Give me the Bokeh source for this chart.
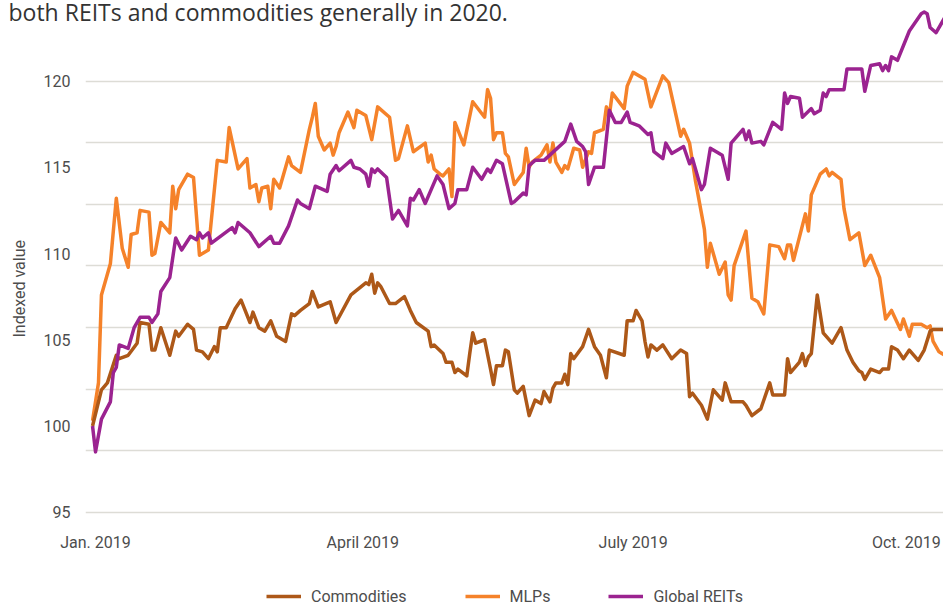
import numpy as np
import pandas as pd
from bokeh.plotting import figure
from bokeh.models import Range1d, FixedTicker, Legend, LegendItem, Title
from bokeh.embed import file_html
from bokeh.resources import INLINE

# ---------------- data ----------------
subtitle_tail = "both REITs and commodities generally in 2020."
y_axis_title = "Indexed value"
series_names = ["Commodities", "MLPs", "Global REITs"]
x_tick_dates = ["2019-01-01", "2019-04-01", "2019-07-01", "2019-10-01"]
x_tick_labels = ["Jan. 2019", "April 2019", "July 2019", "Oct. 2019"]
y_tick_values = [95, 100, 105, 110, 115, 120]

commodities_dates = [
    "2018-12-31", "2019-01-03", "2019-01-05", "2019-01-08", "2019-01-09", "2019-01-12",
    "2019-01-15", "2019-01-16", "2019-01-19", "2019-01-20", "2019-01-21", "2019-01-23",
    "2019-01-26", "2019-01-28", "2019-01-29", "2019-02-01", "2019-02-03", "2019-02-04",
    "2019-02-06", "2019-02-08", "2019-02-10", "2019-02-11", "2019-02-12", "2019-02-14",
    "2019-02-17", "2019-02-19", "2019-02-22", "2019-02-23", "2019-02-25", "2019-02-27",
    "2019-03-01", "2019-03-03", "2019-03-06", "2019-03-08", "2019-03-09", "2019-03-11",
    "2019-03-14", "2019-03-15", "2019-03-17", "2019-03-21", "2019-03-23", "2019-03-28",
    "2019-04-02", "2019-04-03", "2019-04-04", "2019-04-05", "2019-04-06", "2019-04-07",
    "2019-04-10", "2019-04-12", "2019-04-15", "2019-04-17", "2019-04-19", "2019-04-23",
    "2019-04-24", "2019-04-25", "2019-04-28", "2019-04-29", "2019-05-01", "2019-05-02",
    "2019-05-03", "2019-05-06", "2019-05-07", "2019-05-08", "2019-05-09", "2019-05-12",
    "2019-05-14", "2019-05-15", "2019-05-16", "2019-05-18", "2019-05-19", "2019-05-20",
    "2019-05-22", "2019-05-23", "2019-05-25", "2019-05-27", "2019-05-29", "2019-05-31",
    "2019-06-01", "2019-06-03", "2019-06-04", "2019-06-05", "2019-06-07", "2019-06-08",
    "2019-06-09", "2019-06-10", "2019-06-11", "2019-06-14", "2019-06-16", "2019-06-18",
    "2019-06-20", "2019-06-22", "2019-06-23", "2019-06-28", "2019-06-29", "2019-07-01",
    "2019-07-02", "2019-07-04", "2019-07-05", "2019-07-06", "2019-07-07", "2019-07-09",
    "2019-07-11", "2019-07-14", "2019-07-17", "2019-07-19", "2019-07-20", "2019-07-21",
    "2019-07-24", "2019-07-26", "2019-07-28", "2019-07-31", "2019-08-01", "2019-08-03",
    "2019-08-07", "2019-08-08", "2019-08-10", "2019-08-13", "2019-08-16", "2019-08-17",
    "2019-08-21", "2019-08-22", "2019-08-23", "2019-08-26", "2019-08-27", "2019-08-28",
    "2019-08-29", "2019-08-30", "2019-09-01", "2019-09-03", "2019-09-06", "2019-09-09",
    "2019-09-11", "2019-09-13", "2019-09-15", "2019-09-16", "2019-09-17", "2019-09-19",
    "2019-09-22", "2019-09-23", "2019-09-25", "2019-09-26", "2019-09-28", "2019-09-30",
    "2019-10-02", "2019-10-05", "2019-10-07", "2019-10-09", "2019-10-10", "2019-10-14",
]
commodities_values = [
    100.0, 102.1, 102.5, 104.1, 103.9, 104.1,
    104.8, 106.0, 105.9, 104.4, 104.4, 105.7,
    104.1, 105.5, 105.2, 105.9, 105.6, 104.4,
    104.3, 103.9, 104.6, 104.3, 105.7, 105.7,
    106.8, 107.3, 106.0, 106.6, 105.7, 105.5,
    106.1, 105.2, 104.9, 106.5, 106.4, 106.7,
    107.1, 107.8, 106.9, 107.2, 106.0, 107.6,
    108.3, 108.2, 108.8, 107.7, 108.3, 108.1,
    107.1, 107.1, 107.5, 106.7, 106.0, 105.5,
    104.6, 104.7, 104.2, 103.7, 103.7, 103.1,
    103.3, 102.9, 104.2, 105.4, 104.8, 105.0,
    103.3, 102.4, 103.5, 103.5, 104.4, 104.3,
    102.1, 101.9, 102.3, 100.6, 101.5, 101.3,
    102.0, 101.4, 102.2, 102.5, 102.5, 103.0,
    102.4, 104.2, 103.9, 104.6, 105.6, 104.6,
    104.1, 102.8, 104.4, 104.1, 106.1, 106.1,
    106.7, 106.1, 104.9, 104.0, 104.7, 104.4,
    104.7, 103.9, 104.4, 104.2, 101.7, 101.9,
    101.2, 100.4, 102.1, 101.5, 102.5, 101.4,
    101.4, 101.2, 100.6, 101.0, 102.5, 101.8,
    101.8, 103.9, 103.1, 103.7, 104.2, 103.5,
    104.0, 104.2, 107.6, 105.4, 104.8, 105.7,
    104.4, 103.7, 103.2, 103.1, 102.7, 103.3,
    103.1, 103.3, 103.3, 104.6, 104.4, 103.9,
    104.4, 103.8, 104.4, 105.5, 105.6, 105.6,
]

mlps_dates = [
    "2018-12-31", "2019-01-02", "2019-01-03", "2019-01-06", "2019-01-08", "2019-01-10",
    "2019-01-12", "2019-01-13", "2019-01-15", "2019-01-16", "2019-01-19", "2019-01-20",
    "2019-01-21", "2019-01-23", "2019-01-26", "2019-01-27", "2019-01-28", "2019-01-29",
    "2019-02-01", "2019-02-03", "2019-02-05", "2019-02-08", "2019-02-11", "2019-02-14",
    "2019-02-15", "2019-02-18", "2019-02-21", "2019-02-22", "2019-02-24", "2019-02-25",
    "2019-02-26", "2019-02-28", "2019-03-01", "2019-03-02", "2019-03-04", "2019-03-07",
    "2019-03-08", "2019-03-11", "2019-03-14", "2019-03-15", "2019-03-16", "2019-03-17",
    "2019-03-19", "2019-03-21", "2019-03-22", "2019-03-23", "2019-03-24", "2019-03-27",
    "2019-03-29", "2019-03-30", "2019-04-02", "2019-04-04", "2019-04-06", "2019-04-10",
    "2019-04-12", "2019-04-13", "2019-04-16", "2019-04-18", "2019-04-22", "2019-04-23",
    "2019-04-24", "2019-04-25", "2019-04-27", "2019-04-28", "2019-04-30", "2019-05-01",
    "2019-05-02", "2019-05-05", "2019-05-08", "2019-05-12", "2019-05-13", "2019-05-14",
    "2019-05-15", "2019-05-16", "2019-05-18", "2019-05-19", "2019-05-20", "2019-05-22",
    "2019-05-25", "2019-05-26", "2019-05-27", "2019-05-28", "2019-05-31", "2019-06-02",
    "2019-06-03", "2019-06-04", "2019-06-05", "2019-06-07", "2019-06-08", "2019-06-09",
    "2019-06-11", "2019-06-13", "2019-06-14", "2019-06-16", "2019-06-17", "2019-06-18",
    "2019-06-21", "2019-06-22", "2019-06-23", "2019-06-24", "2019-06-28", "2019-06-29",
    "2019-07-01", "2019-07-05", "2019-07-07", "2019-07-11", "2019-07-13", "2019-07-17",
    "2019-07-18", "2019-07-20", "2019-07-22", "2019-07-25", "2019-07-26", "2019-07-27",
    "2019-07-30", "2019-08-01", "2019-08-02", "2019-08-03", "2019-08-04", "2019-08-08",
    "2019-08-10", "2019-08-12", "2019-08-14", "2019-08-16", "2019-08-19", "2019-08-21",
    "2019-08-22", "2019-08-23", "2019-08-24", "2019-08-28", "2019-08-29", "2019-08-30",
    "2019-09-02", "2019-09-04", "2019-09-05", "2019-09-06", "2019-09-09", "2019-09-10",
    "2019-09-12", "2019-09-15", "2019-09-17", "2019-09-19", "2019-09-22", "2019-09-24",
    "2019-09-26", "2019-09-29", "2019-09-30", "2019-10-02", "2019-10-03", "2019-10-06",
    "2019-10-08", "2019-10-09", "2019-10-10", "2019-10-12", "2019-10-14",
]
mlps_values = [
    100.3, 102.5, 107.6, 109.4, 113.2, 110.3,
    109.2, 111.1, 111.2, 112.5, 112.4, 109.9,
    110.0, 111.8, 111.2, 113.9, 112.6, 113.7,
    114.6, 114.4, 109.9, 110.2, 115.4, 115.3,
    117.3, 114.9, 115.5, 113.8, 114.0, 113.0,
    113.8, 113.9, 112.6, 114.3, 113.8, 115.6,
    115.1, 114.7, 117.2, 117.9, 118.7, 116.8,
    116.0, 116.4, 115.7, 116.2, 117.0, 118.2,
    117.3, 118.3, 118.0, 116.6, 118.5, 117.9,
    115.4, 115.5, 117.4, 115.9, 116.4, 115.3,
    115.7, 114.9, 114.6, 114.5, 114.9, 113.3,
    117.6, 116.3, 118.8, 117.9, 119.5, 119.0,
    116.6, 117.0, 117.0, 115.8, 115.6, 114.0,
    114.7, 116.1, 115.0, 115.3, 115.7, 116.3,
    115.3, 116.4, 115.3, 114.7, 115.1, 114.9,
    116.1, 116.0, 115.0, 115.9, 115.8, 117.0,
    117.2, 118.5, 118.0, 119.3, 118.4, 119.7,
    120.5, 120.1, 118.5, 120.3, 119.9, 116.8,
    117.2, 116.4, 114.2, 111.4, 109.2, 110.6,
    108.8, 109.5, 107.6, 107.3, 109.3, 111.3,
    107.4, 107.2, 106.5, 110.5, 110.4, 109.7,
    110.5, 110.5, 109.6, 112.3, 111.3, 113.4,
    114.6, 114.9, 114.5, 114.7, 114.3, 112.6,
    110.8, 111.2, 109.3, 109.9, 108.6, 106.2,
    106.7, 105.6, 106.2, 105.2, 105.9, 105.9,
    105.7, 105.8, 104.9, 104.3, 104.1,
]

reits_dates = [
    "2018-12-31", "2019-01-01", "2019-01-03", "2019-01-06", "2019-01-07", "2019-01-08",
    "2019-01-09", "2019-01-12", "2019-01-14", "2019-01-16", "2019-01-19", "2019-01-20",
    "2019-01-22", "2019-01-23", "2019-01-26", "2019-01-28", "2019-01-30", "2019-02-02",
    "2019-02-04", "2019-02-05", "2019-02-06", "2019-02-08", "2019-02-09", "2019-02-16",
    "2019-02-17", "2019-02-18", "2019-02-22", "2019-02-25", "2019-03-01", "2019-03-02",
    "2019-03-04", "2019-03-07", "2019-03-10", "2019-03-11", "2019-03-14", "2019-03-16",
    "2019-03-20", "2019-03-21", "2019-03-23", "2019-03-24", "2019-03-28", "2019-03-29",
    "2019-03-31", "2019-04-02", "2019-04-03", "2019-04-04", "2019-04-05", "2019-04-06",
    "2019-04-09", "2019-04-11", "2019-04-13", "2019-04-16", "2019-04-17", "2019-04-18",
    "2019-04-20", "2019-04-22", "2019-04-26", "2019-04-28", "2019-04-30", "2019-05-02",
    "2019-05-03", "2019-05-06", "2019-05-08", "2019-05-11", "2019-05-13", "2019-05-14",
    "2019-05-16", "2019-05-18", "2019-05-21", "2019-05-22", "2019-05-25", "2019-05-26",
    "2019-05-27", "2019-05-29", "2019-06-01", "2019-06-08", "2019-06-10", "2019-06-12",
    "2019-06-14", "2019-06-15", "2019-06-16", "2019-06-18", "2019-06-21", "2019-06-23",
    "2019-06-25", "2019-06-27", "2019-06-29", "2019-06-30", "2019-07-03", "2019-07-06",
    "2019-07-07", "2019-07-08", "2019-07-11", "2019-07-12", "2019-07-14", "2019-07-18",
    "2019-07-20", "2019-07-21", "2019-07-24", "2019-07-25", "2019-07-27", "2019-07-31",
    "2019-08-02", "2019-08-03", "2019-08-07", "2019-08-08", "2019-08-09", "2019-08-10",
    "2019-08-13", "2019-08-14", "2019-08-17", "2019-08-20", "2019-08-21", "2019-08-22",
    "2019-08-23", "2019-08-26", "2019-08-27", "2019-08-30", "2019-08-31", "2019-09-02",
    "2019-09-03", "2019-09-04", "2019-09-05", "2019-09-10", "2019-09-11", "2019-09-16",
    "2019-09-17", "2019-09-19", "2019-09-22", "2019-09-23", "2019-09-24", "2019-09-25",
    "2019-09-26", "2019-09-28", "2019-10-02", "2019-10-06", "2019-10-07", "2019-10-08",
    "2019-10-09", "2019-10-11", "2019-10-14",
]
reits_values = [
    100.0, 98.5, 100.4, 101.4, 103.1, 103.4,
    104.7, 104.5, 105.7, 106.3, 106.3, 106.0,
    106.5, 107.8, 108.6, 110.9, 110.2, 111.0,
    110.8, 111.2, 110.9, 111.2, 110.6, 111.5,
    111.2, 111.8, 111.2, 110.4, 111.0, 110.6,
    110.6, 111.6, 113.1, 112.9, 112.6, 113.9,
    113.6, 114.6, 115.1, 114.8, 115.4, 115.0,
    114.9, 114.6, 113.9, 114.9, 114.7, 114.9,
    114.4, 112.0, 112.5, 111.6, 113.2, 113.1,
    113.7, 112.9, 114.5, 114.0, 112.6, 112.9,
    113.7, 113.7, 115.0, 114.3, 114.9, 114.7,
    115.4, 115.2, 112.9, 113.0, 113.5, 113.4,
    115.1, 115.4, 115.4, 116.5, 117.5, 116.5,
    116.2, 115.9, 114.0, 115.0, 115.0, 118.3,
    117.6, 117.6, 118.2, 117.6, 117.4, 116.9,
    117.0, 115.9, 115.5, 116.4, 115.8, 116.2,
    115.2, 115.5, 113.7, 114.0, 116.1, 115.7,
    114.3, 116.4, 117.2, 116.6, 117.1, 116.4,
    116.5, 116.3, 117.6, 117.2, 119.3, 118.7,
    119.1, 119.0, 117.9, 118.4, 118.1, 118.3,
    119.3, 119.1, 119.5, 119.5, 120.7, 120.7,
    119.4, 120.9, 121.0, 120.6, 120.9, 120.6,
    121.4, 121.2, 122.9, 123.9, 124.0, 123.9,
    123.1, 122.8, 123.7,
]

# ---------------- styling ----------------
SANS = "Roboto"
REGULAR = "Open Sans"
TEXT_GRAY = "#4d4d4d"
COL_COMM = "#ad5818"
COL_MLP = "#f5822a"
COL_REIT = "#9b2390"

DAY_MS = 86400000


def to_ms(d):
    return pd.Timestamp(d).value // 10**6


# page geometry (pixels)
W, H = 943, 607
FRAME_LEFT = 85
FRAME_BOTTOM = 606           # frame runs down to the bottom so the legend fits inside it
Y100_PX, PX_PER_UNIT = 425.5, 17.25
X_LABEL_TOP_PX = 532


def y_at(px):
    return 100 + (Y100_PX - px) / PX_PER_UNIT


jan1 = to_ms("2019-01-01")
x_start = jan1 - 3.37 * DAY_MS
x_end = jan1 + 285.5 * DAY_MS

p = figure(
    width=W, height=H, x_axis_type="datetime",
    output_backend="svg", toolbar_location=None,
    x_range=Range1d(x_start, x_end), y_range=Range1d(y_at(FRAME_BOTTOM), y_at(0)),
    min_border_left=FRAME_LEFT, min_border_right=0, min_border_top=0,
    min_border_bottom=H - FRAME_BOTTOM,
)
p.outline_line_color = None
p.background_fill_color = "white"
p.border_fill_color = "white"

r_mlp = p.line(pd.to_datetime(mlps_dates), mlps_values, line_color=COL_MLP,
               line_width=3.5, line_join="round")
r_comm = p.line(pd.to_datetime(commodities_dates), commodities_values, line_color=COL_COMM,
                line_width=3.5, line_join="round")
r_reit = p.line(pd.to_datetime(reits_dates), reits_values, line_color=COL_REIT,
                line_width=3.5, line_join="round")

# grid: 7 equal bands between 95 and 120
p.xgrid.visible = False
p.ygrid.ticker = FixedTicker(ticks=list(np.linspace(95, 120, 8)))
p.ygrid.grid_line_color = "#dddcd6"
p.ygrid.grid_line_width = 1.5

# axes
for ax in (p.xaxis[0], p.yaxis[0]):
    ax.axis_line_color = None
    ax.major_tick_line_color = None
    ax.minor_tick_line_color = None
    ax.major_tick_out = 0
    ax.major_tick_in = 0
    ax.minor_tick_out = 0
    ax.major_label_text_font = SANS
    ax.major_label_text_font_size = "16px"
    ax.major_label_text_color = TEXT_GRAY

p.yaxis.ticker = FixedTicker(ticks=y_tick_values)
p.yaxis.major_label_standoff = 15

tick_ms = [to_ms(d) for d in x_tick_dates]
p.xaxis.ticker = FixedTicker(ticks=tick_ms)
p.xaxis.major_label_overrides = {t: lab for t, lab in zip(tick_ms, x_tick_labels)}
# labels are pulled back up from the frame bottom to sit just under the 95 line
p.xaxis.major_label_standoff = X_LABEL_TOP_PX - FRAME_BOTTOM

# y-axis title (left panel, rotated)
p.add_layout(Title(
    text=y_axis_title, align="left", offset=FRAME_BOTTOM - 337, vertical_align="top",
    standoff=19, text_font=SANS, text_font_size="16px", text_font_style="normal",
    text_color=TEXT_GRAY,
), "left")

# subtitle tail at the very top, overlapping the top of the frame
p.add_layout(Title(
    text=subtitle_tail, align="left", offset=8 - FRAME_LEFT, vertical_align="bottom",
    standoff=-54, text_font=REGULAR, text_font_size="23px", text_font_style="normal",
    text_color="#333333",
), "above")

legend = Legend(
    items=[LegendItem(label=series_names[0], renderers=[r_comm]),
           LegendItem(label=series_names[1], renderers=[r_mlp]),
           LegendItem(label=series_names[2], renderers=[r_reit])],
    location=(181, 0), orientation="horizontal",
    glyph_width=35, glyph_height=20, label_height=20, label_standoff=10, spacing=58,
    padding=0, margin=0, border_line_color=None, background_fill_alpha=0,
    label_text_font=SANS, label_text_font_size="16px", label_text_color=TEXT_GRAY,
)
p.add_layout(legend)

open("out.html", "w").write(file_html(p, INLINE))
